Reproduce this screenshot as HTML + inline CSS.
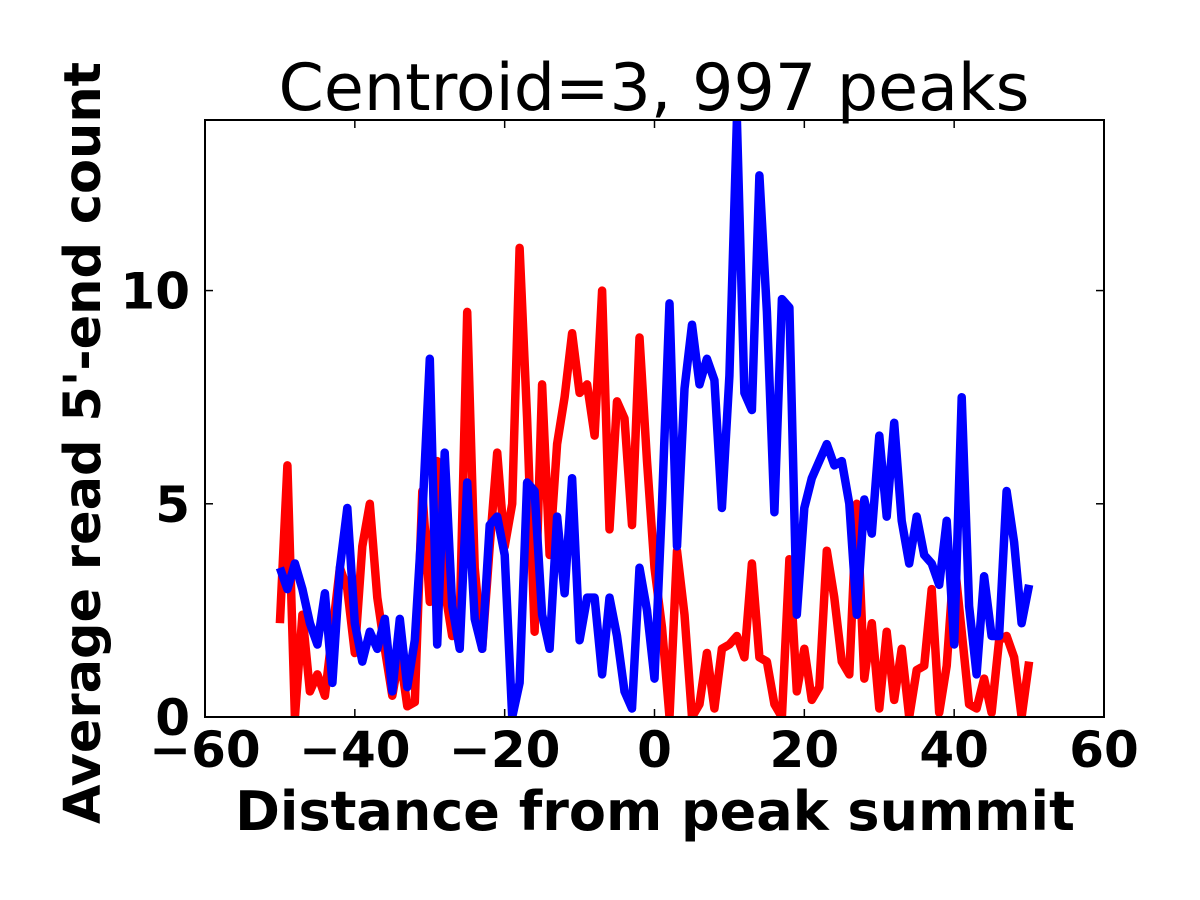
<!DOCTYPE html>
<html><head><meta charset="utf-8"><style>
html,body{margin:0;padding:0;background:#fff;}
svg{display:block;font-family:"DejaVu Sans","Liberation Sans",sans-serif;}
</style></head><body>
<svg id="chart" width="1200" height="900">
<defs><clipPath id="clip"><rect x="205" y="120" width="899" height="597"/></clipPath></defs>
<rect x="0" y="0" width="1200" height="900" fill="#fff"/>
<text x="654" y="110" font-size="65" text-anchor="middle">Centroid=3, 997 peaks</text>
<g id="series" clip-path="url(#clip)"></g>
<rect x="205" y="120" width="899" height="597" fill="none" stroke="#000" stroke-width="2"/>
<g id="ticks"></g>
<text x="655" y="830" font-size="54" font-weight="bold" text-anchor="middle">Distance from peak summit</text>
<text transform="translate(100,443) rotate(-90)" font-size="51" font-weight="bold" text-anchor="middle">Average read 5'-end count</text>
</svg>
<script>
const xs = [];
for (let i = -50; i <= 50; i++) xs.push(i);
const redValues = [2.2,5.9,0.0,2.4,0.6,1.0,0.5,2.0,3.5,3.0,1.5,4.0,5.0,2.8,1.6,0.5,1.5,0.25,0.35,5.3,2.7,6.0,3.0,1.9,2.2,9.5,3.5,1.6,4.0,6.2,4.0,5.0,11.0,7.0,2.0,7.8,3.8,6.4,7.5,9.0,7.6,7.8,6.6,10.0,4.4,7.4,7.0,4.5,8.9,6.0,3.5,2.1,0.0,3.9,2.4,0.0,0.3,1.5,0.2,1.6,1.7,1.9,1.4,3.6,1.4,1.3,0.3,0.0,3.7,0.6,1.6,0.4,0.7,3.9,2.8,1.3,1.0,5.0,0.9,2.2,0.2,2.0,0.4,1.6,0.0,1.1,1.2,3.0,0.1,1.2,3.7,2.0,0.3,0.2,0.9,0.1,1.8,1.9,1.4,0.0,1.3];
const blueValues = [3.5,3.0,3.6,3.0,2.2,1.7,2.9,0.8,3.5,4.9,2.2,1.3,2.0,1.6,2.3,0.6,2.3,0.7,1.8,4.7,8.4,1.7,6.2,2.6,1.6,5.5,2.3,1.6,4.5,4.7,3.8,0.0,0.8,5.5,5.3,2.4,1.6,4.7,2.9,5.6,1.8,2.8,2.8,1.0,2.8,1.9,0.6,0.2,3.5,2.5,0.9,5.0,9.7,4.0,7.7,9.2,7.8,8.4,7.9,4.9,8.0,14.0,7.6,7.2,12.7,9.5,4.8,9.8,9.6,2.4,4.9,5.6,6.0,6.4,5.9,6.0,5.0,2.4,5.1,4.3,6.6,4.7,6.9,4.6,3.6,4.7,3.8,3.6,3.1,4.6,1.7,7.5,2.6,1.0,3.3,1.9,1.9,5.3,4.1,2.2,3.1];
const xTicks = [-60,-40,-20,0,20,40,60];
const yTicks = [0,5,10];

const X0=205,X1=1104,Y0=717,Y1=120, xmin=-60,xmax=60,ymin=0,ymax=14;
const sx = v => X0 + (v - xmin) / (xmax - xmin) * (X1 - X0);
const sy = v => Y0 - (v - ymin) / (ymax - ymin) * (Y0 - Y1);
const NS='http://www.w3.org/2000/svg';
const g = document.getElementById('series');
function line(vals, color, name){
  const p = document.createElementNS(NS,'path');
  p.setAttribute('d', vals.map((v,i)=>(i?'L':'M')+sx(xs[i]).toFixed(1)+','+sy(v).toFixed(1)).join(''));
  p.setAttribute('fill','none');p.setAttribute('stroke',color);p.setAttribute('stroke-width','8.5');
  p.setAttribute('stroke-linejoin','round');
  
  
  g.appendChild(p);
}
line(redValues,'#ff0000','red-series-line');
line(blueValues,'#0000ff','blue-series-line');
const t = document.getElementById('ticks');
xTicks.forEach(v=>{
  const x = sx(v);
  [[Y0,Y0-8],[Y1,Y1+8]].forEach(([a,b])=>{
    const l=document.createElementNS(NS,'line');
    l.setAttribute('x1',x);l.setAttribute('x2',x);l.setAttribute('y1',a);l.setAttribute('y2',b);
    l.setAttribute('stroke','#000');l.setAttribute('stroke-width','1.5');
    
    
    t.appendChild(l);
  });
  const tx=document.createElementNS(NS,'text');
  tx.setAttribute('x',x);tx.setAttribute('y',Y0+50);tx.setAttribute('font-size','50');
  tx.setAttribute('font-weight','bold');tx.setAttribute('text-anchor','middle');
  tx.textContent = (v<0?'\u2212':'')+Math.abs(v);
  
  
  t.appendChild(tx);
});
yTicks.forEach(v=>{
  const y = sy(v);
  [[X0,X0+8],[X1,X1-8]].forEach(([a,b])=>{
    const l=document.createElementNS(NS,'line');
    l.setAttribute('x1',a);l.setAttribute('x2',b);l.setAttribute('y1',y);l.setAttribute('y2',y);
    l.setAttribute('stroke','#000');l.setAttribute('stroke-width','1.5');
    
    
    t.appendChild(l);
  });
  const tx=document.createElementNS(NS,'text');
  tx.setAttribute('x',X0-15);tx.setAttribute('y',y+18);tx.setAttribute('font-size','50');
  tx.setAttribute('font-weight','bold');tx.setAttribute('text-anchor','end');
  tx.textContent = v;
  
  
  t.appendChild(tx);
});
</script>
</body></html>
